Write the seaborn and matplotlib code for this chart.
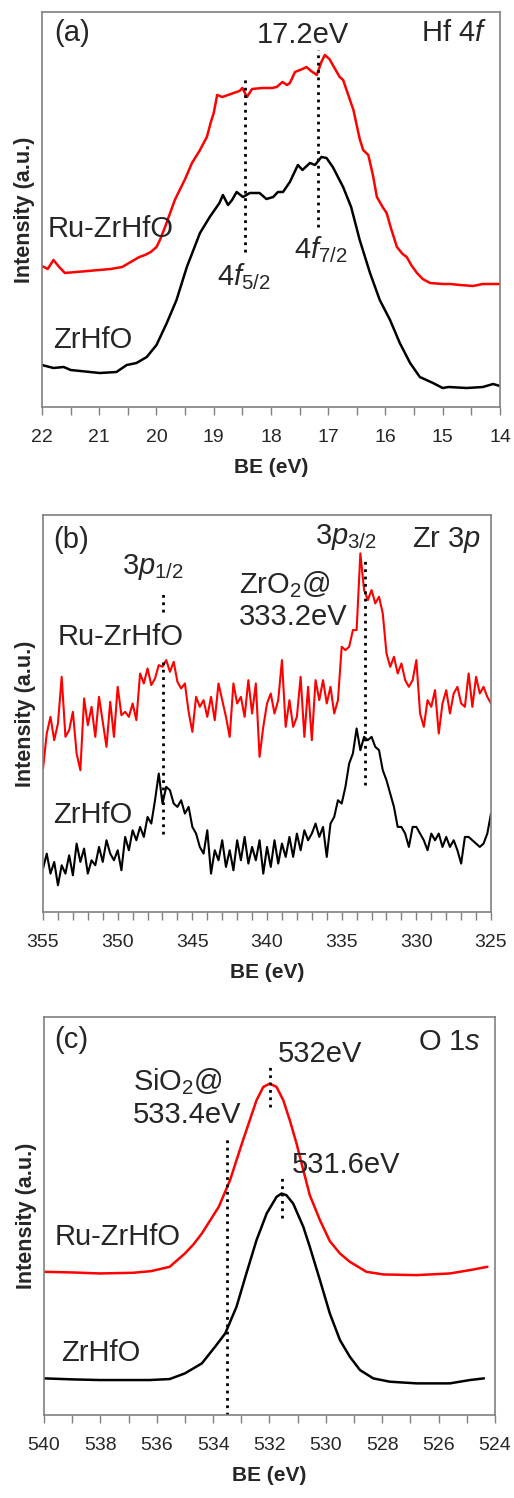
import numpy as np
import matplotlib
matplotlib.use("Agg")
import matplotlib.pyplot as plt
import seaborn as sns

sns.set_style("white")
plt.rcParams['font.family'] = ['Liberation Sans', 'DejaVu Sans']
plt.rcParams['mathtext.fontset'] = 'custom'
plt.rcParams['mathtext.rm'] = 'Liberation Sans'
plt.rcParams['mathtext.it'] = 'Liberation Sans:italic'
plt.rcParams['mathtext.bf'] = 'Liberation Sans:bold'

# ---- (a) Hf 4f ----
be_a_red = [22.0, 21.9, 21.8, 21.7, 21.6, 21.4, 21.2, 21.0, 20.8, 20.6, 20.45, 20.3, 20.2, 20.1,
            20.0, 19.94, 19.85, 19.68, 19.5, 19.38, 19.25, 19.12, 19.05, 19.0, 18.94, 18.85,
            18.7, 18.55, 18.5, 18.42, 18.33, 18.15, 17.98, 17.9, 17.8, 17.72, 17.67, 17.58,
            17.45, 17.38, 17.3, 17.2, 17.12, 17.06, 16.98, 16.9, 16.8, 16.74, 16.65, 16.56,
            16.45, 16.39, 16.3, 16.22, 16.15, 16.05, 15.98, 15.9, 15.8, 15.7, 15.63, 15.55,
            15.45, 15.35, 15.22, 15.0, 14.87, 14.7, 14.47, 14.3, 14.0]
int_a_red = [141, 138, 147, 140, 134, 135, 136, 137, 138, 140, 145, 150, 152, 155,
             160, 167, 180, 207, 228, 244, 256, 270, 285, 294, 312, 310,
             313, 316, 319, 310, 318, 319, 319, 320, 325, 322, 324, 335,
             338, 340, 336, 332, 345, 352, 348, 340, 330, 327, 312, 297,
             268, 257, 252, 232, 210, 200, 194, 178, 160, 153, 150, 142,
             134, 128, 124, 123, 123, 122, 121, 123, 123]

be_a_blk = [22.0, 21.8, 21.62, 21.5, 20.99, 20.7, 20.52, 20.35, 20.17, 20.0, 19.82, 19.65,
            19.47, 19.24, 19.07, 18.9, 18.84, 18.75, 18.68, 18.6, 18.49, 18.37, 18.2, 18.08,
            17.96, 17.88, 17.79, 17.67, 17.53, 17.45, 17.32, 17.23, 17.12, 17.03, 16.92,
            16.74, 16.6, 16.45, 16.27, 16.1, 15.92, 15.75, 15.57, 15.4, 15.17, 15.0, 14.9,
            14.58, 14.3, 14.12, 14.0]
int_a_blk = [42, 39, 40, 37, 34, 35, 42, 44, 50, 62, 84, 107,
             140, 174, 190, 204, 212, 202, 207, 215, 210, 214, 214, 208,
             210, 215, 215, 225, 242, 237, 244, 242, 250, 249, 240,
             220, 200, 167, 134, 107, 87, 64, 44, 30, 24, 19, 20,
             19, 20, 23, 21]

# ---- (b) Zr 3p ----
be_b = np.arange(355.0, 324.99, -0.25)
int_b_red = [430, 535, 585, 515, 565, 705, 525, 545, 600, 475, 425, 640, 560, 615, 525, 645,
             570, 495, 630, 525, 675, 590, 600, 585, 625, 575, 715, 685, 730, 680, 700, 740,
             735, 755, 720, 750, 690, 670, 685, 600, 540,
             645, 615, 635, 585, 645, 575, 685, 635, 585, 525, 685, 625, 645, 585, 695, 595,
             685, 465, 555, 625, 655, 595, 635, 755, 555, 635, 555, 585, 705, 525, 675, 515,
             695, 635, 695, 625, 675, 595, 635, 795,
             785, 795, 845, 845, 1075, 965, 935, 965, 925, 945, 895, 775, 735, 765, 715, 745,
             695, 675, 695, 755, 595, 555, 635, 615, 665, 535, 625, 665, 595, 655, 675, 625,
             615, 715, 615, 705, 655, 675, 645, 625]
int_b_blk = [130, 175, 115, 150, 80, 140, 115, 170, 110, 205, 150, 190, 115, 155, 140, 195,
             150, 215, 175, 155, 185, 125, 225, 185, 245, 215, 255, 225, 285, 265, 335, 415,
             325, 375, 365, 325, 315, 335, 295, 315, 255,
             235, 195, 175, 245, 115, 185, 155, 215, 135, 185, 125, 215, 155, 225, 145, 195,
             155, 215, 115, 195, 135, 215, 145, 205, 165, 225, 165, 235, 185, 245, 215, 235,
             265, 225, 255, 165, 265, 285, 335, 325,
             375, 445, 475, 550, 485, 525, 515, 525, 495, 485, 425, 395, 355, 315, 255, 255,
             235, 195, 255, 255, 235, 215, 185, 235, 215, 235, 195, 225, 195, 215, 185, 145,
             225, 225, 215, 205, 195, 205, 235, 295]

# ---- (c) O 1s ----
be_c_red = [540.0, 539.0, 538.02, 536.84, 536.2, 535.54, 535.0, 534.7, 534.4, 534.1, 533.8,
            533.6, 533.4, 533.17, 532.94, 532.7, 532.46, 532.22, 531.99, 531.75, 531.51,
            531.28, 531.04, 530.8, 530.57, 530.21, 529.86, 529.5, 529.15, 528.56, 527.96,
            526.78, 525.6, 524.89, 524.27]
int_c_red = [430, 428, 425, 427, 432, 445, 485, 512, 545, 585, 625,
             665, 705, 765, 825, 885, 945, 985, 995, 985, 945,
             885, 815, 735, 660, 585, 522, 485, 460, 430, 422,
             420, 425, 435, 445]
be_c_blk = [540.0, 539.0, 538.02, 536.25, 535.54, 535.0, 534.4, 533.93, 533.57, 533.17,
            532.82, 532.46, 532.1, 531.75, 531.57, 531.4, 531.16, 530.8, 530.57, 530.21,
            529.86, 529.5, 529.15, 528.79, 528.32, 527.73, 526.78, 525.6, 524.89, 524.39]
int_c_blk = [110, 107, 105, 105, 108, 125, 155, 205, 245, 325,
             425, 525, 605, 655, 665, 660, 635, 565, 505, 405,
             305, 225, 175, 135, 110, 100, 95, 95, 105, 110]

RED = '#ff0000'
FS = 21


def style_axis(ax, xlim, ylim, major, minor):
    ax.set_xlim(*xlim)
    ax.set_ylim(*ylim)
    ax.set_xticks(major)
    ax.set_xticks(minor, minor=True)
    ax.set_yticks([])
    for s in ax.spines.values():
        s.set_color('#808080')
        s.set_linewidth(1.2)
    ax.tick_params(axis='x', which='both', direction='out', length=5.5, width=1,
                   color='#808080', bottom=True, labelsize=14, pad=10)
    ax.set_xlabel('BE (eV)', fontsize=15, fontweight='bold', labelpad=9)
    ax.set_ylabel('Intensity (a.u.)', fontsize=15.5, fontweight='bold', labelpad=5)


fig = plt.figure(figsize=(5.14, 14.98), dpi=100)
ax_a = fig.add_axes([0.0817, 0.7283, 0.891, 0.2637])
ax_b = fig.add_axes([0.0837, 0.3912, 0.8716, 0.2650])
ax_c = fig.add_axes([0.0856, 0.0554, 0.8774, 0.2657])

# panel (a)
sns.lineplot(x=be_a_red, y=int_a_red, color=RED, lw=1.8, ax=ax_a)
sns.lineplot(x=be_a_blk, y=int_a_blk, color='black', lw=1.8, ax=ax_a)
style_axis(ax_a, (22, 14), (0, 395), np.arange(14, 23, 1), np.arange(14, 22.1, 0.5))
ax_a.vlines([18.45], 155, 330, colors='black', linestyles=':', lw=2)
ax_a.vlines([17.18], 180, 357, colors='black', linestyles=':', lw=2)
ax_a.text(21.78, 374, '(a)', fontsize=FS, va='center')
ax_a.text(14.23, 374, r'Hf 4$\mathit{f}$', fontsize=FS, va='center', ha='right')
ax_a.text(17.44, 372, '17.2eV', fontsize=FS, va='center', ha='center')
ax_a.text(21.9, 178, 'Ru-ZrHfO', fontsize=FS, va='center')
ax_a.text(21.8, 67, 'ZrHfO', fontsize=FS, va='center')
ax_a.text(18.94, 130, r'4$\mathit{f}_{5/2}$', fontsize=FS, va='center')
ax_a.text(17.6, 157, r'4$\mathit{f}_{7/2}$', fontsize=FS, va='center')

# panel (b)
sns.lineplot(x=be_b, y=int_b_red, color=RED, lw=1.5, ax=ax_b)
sns.lineplot(x=be_b, y=int_b_blk, color='black', lw=1.5, ax=ax_b)
style_axis(ax_b, (355, 325), (0, 1190), np.arange(325, 356, 5), np.arange(325, 356, 1))
ax_b.vlines([346.94], 900, 960, colors='black', linestyles=':', lw=2)
ax_b.vlines([346.94], 235, 760, colors='black', linestyles=':', lw=2)
ax_b.vlines([333.45], 380, 1055, colors='black', linestyles=':', lw=2)
ax_b.text(354.3, 1115, '(b)', fontsize=FS, va='center')
ax_b.text(325.7, 1115, r'Zr 3$\mathit{p}$', fontsize=FS, va='center', ha='right')
ax_b.text(349.73, 1035, r'3$\mathit{p}_{\mathit{1/2}}$', fontsize=FS, va='center')
ax_b.text(336.8, 1125, r'3$\mathit{p}_{3/2}$', fontsize=FS, va='center')
ax_b.text(341.9, 980, r'ZrO$_2$@', fontsize=FS, va='center')
ax_b.text(341.9, 885, '333.2eV', fontsize=FS, va='center')
ax_b.text(354.0, 825, 'Ru-ZrHfO', fontsize=FS, va='center')
ax_b.text(354.3, 290, 'ZrHfO', fontsize=FS, va='center')

# panel (c)
sns.lineplot(x=be_c_red, y=int_c_red, color=RED, lw=1.8, ax=ax_c)
sns.lineplot(x=be_c_blk, y=int_c_blk, color='black', lw=1.8, ax=ax_c)
style_axis(ax_c, (540, 524), (0, 1195), np.arange(524, 541, 2), np.arange(524, 541, 1))
ax_c.vlines([533.49], 0, 835, colors='black', linestyles=':', lw=2)
ax_c.vlines([531.99], 925, 1055, colors='black', linestyles=':', lw=2)
ax_c.vlines([531.57], 590, 720, colors='black', linestyles=':', lw=2)
ax_c.text(539.62, 1125, '(c)', fontsize=FS, va='center')
ax_c.text(524.5, 1120, r'O 1$\mathit{s}$', fontsize=FS, va='center', ha='right')
ax_c.text(531.72, 1085, '532eV', fontsize=FS, va='center')
ax_c.text(536.86, 1000, r'SiO$_2$@', fontsize=FS, va='center')
ax_c.text(536.86, 900, '533.4eV', fontsize=FS, va='center')
ax_c.text(531.22, 750, '531.6eV', fontsize=FS, va='center')
ax_c.text(539.62, 535, 'Ru-ZrHfO', fontsize=FS, va='center')
ax_c.text(539.38, 185, 'ZrHfO', fontsize=FS, va='center')

fig.savefig('out.png', dpi=100)
